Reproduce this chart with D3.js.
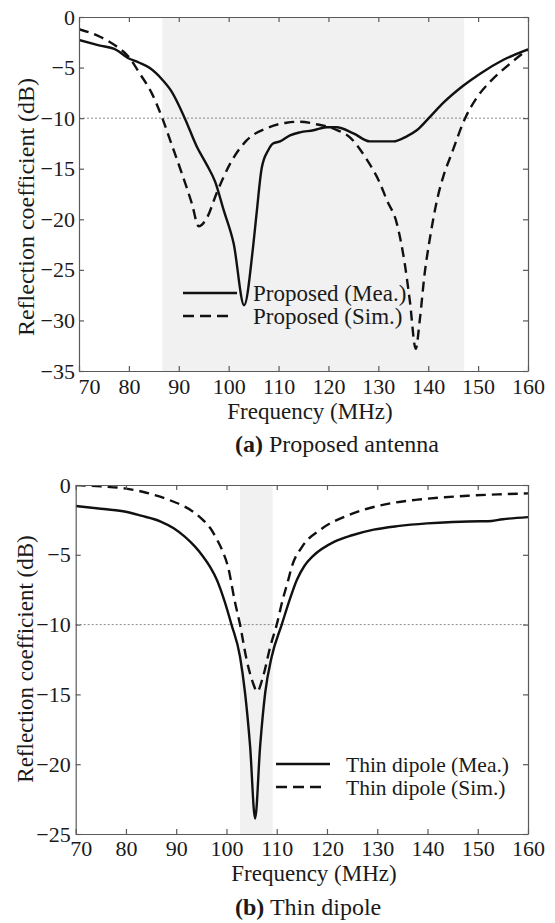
<!DOCTYPE html>
<meta charset="utf-8">
<head>
  <script src="https://d3js.org/d3.v7.min.js"></script>
  <style>
    body { margin: 0; background: #fff; }
    text { font-family: "Liberation Serif", "Times New Roman", serif; fill: #1a1a1a; }
    .axis path, .axis line { stroke: #5a5a5a; stroke-width: 1.2; }
    .axis text { font-size: 22px; fill: #1a1a1a; }
  </style>
</head>
<body>
<svg id="chart" width="555" height="923"></svg>
<script>
  // ---------- data: (a) proposed antenna ----------
  var freqMeaA = [70, 74, 77.5, 79.8, 82, 84.2, 86.7, 88.6, 91.2, 93.6, 95.6, 97.3, 99, 101, 103.1,
                  104.9, 105.6, 106.6, 107.9, 108.9, 110.3, 112.3, 114.3, 117, 119.6, 121.6, 125,
                  128.3, 133, 135.7, 137.7, 140.3, 143, 147, 150.4, 155, 160];
  var dbMeaA   = [-2.27, -2.8, -3.26, -4.05, -4.5, -5.05, -6.2, -7.4, -10, -12.8, -14.6, -16.3, -19.1, -22.4, -28.5,
                  -22.7, -19.4, -15, -13.2, -12.5, -12.3, -11.7, -11.4, -11.2, -10.9, -10.9, -11.5,
                  -12.3, -12.3, -11.8, -11.2, -9.9, -8.5, -6.8, -5.6, -4.25, -3.2];

  var freqSimA = [70, 74.2, 77.5, 79.9, 82.2, 84.6, 86.7, 88.5, 90.5, 92.6, 94, 95.6, 97.6, 100.3, 103.6,
                  107.6, 111.6, 114.3, 117.6, 121.3, 124.3, 127.7, 130.3, 131.7, 133.7, 135.3, 136.3,
                  137.5, 138.3, 139.3, 140.3, 142, 143, 144.7, 147.4, 149.7, 152.4, 155.7, 160];
  var dbSimA   = [-1.2, -1.95, -2.9, -3.9, -5.6, -7.55, -10, -12.5, -15.3, -18.4, -20.7, -19.9, -17.4, -14.5, -12.2,
                  -11, -10.45, -10.35, -10.6, -11.1, -11.9, -14.1, -16.4, -18.1, -20.4, -24.4, -28,
                  -32.8, -30, -25.3, -22, -17.6, -15.8, -13.5, -10, -8, -6.4, -4.9, -3.2];
  var bandA = [86.7, 147.2];

  // ---------- data: (b) thin dipole ----------
  var freqMeaB = [70, 75, 79.7, 83, 86.8, 89.5, 91.7, 93.7, 95.3, 96.8, 98.1, 99.6, 101, 102.7, 103.7, 104.7,
                  105.7, 106.7, 107.7, 109, 111, 112.5, 114, 115.5, 117.2, 121.5, 125, 129.3, 134, 139.9,
                  145, 150.5, 152, 155, 160];
  var dbMeaB   = [-1.5, -1.7, -1.9, -2.2, -2.6, -3.1, -3.7, -4.4, -5.1, -5.9, -6.8, -8.3, -10, -12.3, -14.9, -18.7,
                  -23.9, -18.7, -14.9, -12.3, -10, -8.3, -6.8, -5.8, -5.1, -4.06, -3.6, -3.2, -2.95, -2.75,
                  -2.65, -2.6, -2.6, -2.45, -2.3];

  var freqSimB = [70, 75, 79.7, 83.5, 86.8, 89.5, 91.7, 93.7, 95.3, 96.8, 98.1, 99.3, 100.3, 101.7, 102.7,
                  104, 105.3, 106.1, 107.3, 108.7, 110, 111.2, 112.3, 113, 115.1, 118.7, 124.3, 128, 132.8,
                  138, 143.4, 148, 154, 160];
  var dbSimB   = [0, -0.1, -0.24, -0.5, -0.84, -1.2, -1.55, -2, -2.5, -3.1, -3.9, -4.8, -5.85, -8.4, -10,
                  -12.5, -14.2, -14.8, -13.7, -11.6, -10, -8.2, -6.8, -5.85, -4.4, -3.2, -2.15, -1.7, -1.3,
                  -1.05, -0.88, -0.77, -0.67, -0.6];
  var bandB = [102.7, 109.2];

  var xTicks = [70, 80, 90, 100, 110, 120, 130, 140, 150, 160];
  var yTicksA = [0, -5, -10, -15, -20, -25, -30, -35];
  var yTicksB = [0, -5, -10, -15, -20, -25];
  var refLevel = -10;

  var svg = d3.select("#chart");

  function zip(f, v) { return f.map(function(d, i){ return {f: d, v: v[i]}; }); }

  function drawPanel(p) {
    var x = d3.scaleLinear().domain([70, 160]).range([p.left, p.right]);
    var y = d3.scaleLinear().domain(p.ydom).range([p.top, p.bottom]);
    var g = svg.append("g");

    var clipId = "clip" + p.id;
    g.append("clipPath").attr("id", clipId).append("rect")
      .attr("x", p.left).attr("y", p.top)
      .attr("width", p.right - p.left).attr("height", p.bottom - p.top);

    // shaded band
    g.append("rect")
      .attr("x", x(p.band[0])).attr("y", p.top)
      .attr("width", x(p.band[1]) - x(p.band[0]))
      .attr("height", p.bottom - p.top)
      .attr("fill", "#f1f1f1");

    // -10 dB reference
    g.append("line")
      .attr("x1", p.left).attr("x2", p.right)
      .attr("y1", y(refLevel)).attr("y2", y(refLevel))
      .attr("stroke", "#8a8a8a").attr("stroke-width", 1)
      .attr("stroke-dasharray", "2,2");

    var line = d3.line()
      .x(function(d){ return x(d.f); })
      .y(function(d){ return y(d.v); })
      .curve(d3.curveMonotoneX);

    g.append("path").datum(zip(p.fSim, p.vSim))
      .attr("clip-path", "url(#" + clipId + ")")
      .attr("fill", "none").attr("stroke", "#111").attr("stroke-width", 2.4)
      .attr("stroke-dasharray", "10,6").attr("d", line);
    g.append("path").datum(zip(p.fMea, p.vMea))
      .attr("clip-path", "url(#" + clipId + ")")
      .attr("fill", "none").attr("stroke", "#111").attr("stroke-width", 2.4)
      .attr("d", line);

    // axes, ticks pointing inward on all four sides
    var bottom = g.append("g").attr("class", "axis")
      .attr("transform", "translate(0," + p.bottom + ")")
      .call(d3.axisBottom(x).tickValues(xTicks).tickSize(-5).tickSizeOuter(0).tickPadding(p.xpad));
    bottom.selectAll("text").filter(function(d){ return d === 70; }).attr("dx", p.firstDx);
    g.append("g").attr("class", "axis")
      .attr("transform", "translate(0," + p.top + ")")
      .call(d3.axisTop(x).tickValues(xTicks).tickSize(-5).tickSizeOuter(0).tickFormat(""));
    g.append("g").attr("class", "axis")
      .attr("transform", "translate(" + p.left + ",0)")
      .call(d3.axisLeft(y).tickValues(p.yTicks).tickSize(-5).tickSizeOuter(0).tickPadding(p.ypad));
    g.append("g").attr("class", "axis")
      .attr("transform", "translate(" + p.right + ",0)")
      .call(d3.axisRight(y).tickValues(p.yTicks).tickSize(-5).tickSizeOuter(0).tickFormat(""));
    g.selectAll(".axis .domain").attr("stroke", "#5a5a5a");

    // axis titles
    g.append("text")
      .attr("x", p.xlabX).attr("y", p.xlabY)
      .attr("text-anchor", "middle").style("font-size", "23px")
      .text("Frequency (MHz)");
    g.append("text")
      .attr("transform", "translate(" + p.ylabX + "," + p.ylabY + ") rotate(-90)")
      .attr("text-anchor", "middle").style("font-size", p.ylabSize + "px")
      .text("Reflection coefficient (dB)");

    // caption
    var cap = g.append("text")
      .attr("x", p.capX).attr("y", p.capY)
      .style("font-size", "24px");
    cap.append("tspan").style("font-weight", "bold").text(p.capTag);
    cap.append("tspan").text(" " + p.capText);

    // legend
    var leg = g.append("g");
    leg.append("line")
      .attr("x1", p.legX).attr("x2", p.legX + 54)
      .attr("y1", p.legY).attr("y2", p.legY)
      .attr("stroke", "#111").attr("stroke-width", 2.6);
    leg.append("line")
      .attr("x1", p.legX).attr("x2", p.legX + 46)
      .attr("y1", p.legY + p.legGap).attr("y2", p.legY + p.legGap)
      .attr("stroke", "#111").attr("stroke-width", 2.6)
      .attr("stroke-dasharray", "11,6");
    leg.append("text")
      .attr("x", p.legX + 70).attr("y", p.legY + 8)
      .style("font-size", p.legSize + "px").text(p.legMea);
    leg.append("text")
      .attr("x", p.legX + 70).attr("y", p.legY + p.legGap + 8)
      .style("font-size", p.legSize + "px").text(p.legSim);
  }

  drawPanel({
    id: "a", left: 79, right: 528, top: 17, bottom: 371, ydom: [0, -35],
    fMea: freqMeaA, vMea: dbMeaA, fSim: freqSimA, vSim: dbSimA, band: bandA, yTicks: yTicksA,
    xpad: 7, ypad: 4, firstDx: 10,
    xlabX: 310, xlabY: 419, ylabX: 34, ylabY: 207, ylabSize: 24,
    capX: 235, capY: 452, capTag: "(a)", capText: "Proposed antenna",
    legX: 183, legY: 293, legGap: 23, legSize: 23,
    legMea: "Proposed (Mea.)", legSim: "Proposed (Sim.)"
  });

  drawPanel({
    id: "b", left: 75.7, right: 528, top: 485, bottom: 834, ydom: [0, -25],
    fMea: freqMeaB, vMea: dbMeaB, fSim: freqSimB, vSim: dbSimB, band: bandB, yTicks: yTicksB,
    xpad: 6, ypad: 5, firstDx: 5,
    xlabX: 314, xlabY: 881, ylabX: 33, ylabY: 659, ylabSize: 23,
    capX: 235, capY: 915, capTag: "(b)", capText: "Thin dipole",
    legX: 276, legY: 764, legGap: 23, legSize: 21.5,
    legMea: "Thin dipole (Mea.)", legSim: "Thin dipole (Sim.)"
  });
</script>
</body>
